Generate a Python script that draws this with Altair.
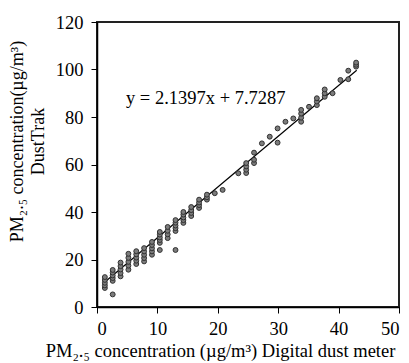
import altair as alt
import pandas as pd

# Scatter points (x = digital dust meter, y = DustTrak)
X_VALS = [
    1.3, 1.3, 1.3, 1.3, 1.3,
    2.6, 2.6, 2.6, 2.6, 2.6, 2.6,
    3.9, 3.9, 3.9, 3.9, 3.9,
    5.2, 5.2, 5.2, 5.2, 5.2,
    6.5, 6.5, 6.5, 6.5, 6.5,
    7.8, 7.8, 7.8, 7.8, 7.8,
    9.1, 9.1, 9.1, 9.1, 9.1,
    10.4, 10.4, 10.4, 10.4, 10.4, 10.4,
    11.7, 11.7, 11.7, 11.7,
    13.0, 13.0, 13.0, 13.0, 13.0, 13.0,
    14.3, 14.3, 14.3, 14.3, 14.3,
    15.6, 15.6, 15.6, 15.6,
    16.9, 16.9, 16.9, 16.9,
    18.2, 18.2, 18.2,
    19.5, 20.8, 23.4,
    24.7, 24.7, 24.7, 24.7,
    26.0, 26.0, 26.0,
    27.3, 28.6, 29.9, 29.9, 31.2, 32.5,
    33.8, 33.8, 33.8, 33.8,
    35.1, 36.4, 36.4, 36.4,
    37.7, 37.7, 37.7,
    39.0, 40.3, 41.6, 41.6,
    42.9, 42.9, 42.9,
]
Y_VALS = [
    8.0, 9.1, 10.2, 11.4, 12.6,
    5.3, 11.0, 12.2, 13.3, 14.5, 15.6,
    12.9, 14.3, 15.8, 17.2, 18.7,
    15.7, 17.4, 19.0, 20.7, 22.4,
    18.1, 19.5, 20.8, 22.2, 23.5,
    19.2, 20.6, 22.0, 23.4, 24.8,
    22.0, 23.4, 24.7, 26.1, 27.4,
    24.0, 27.0, 28.2, 29.3, 30.5, 31.6,
    29.0, 30.6, 32.1, 33.7,
    24.0, 32.0, 33.2, 34.3, 35.5, 36.6,
    35.4, 36.6, 37.7, 38.9, 40.0,
    38.3, 39.6, 40.8, 42.1,
    41.7, 42.9, 44.0, 45.2,
    45.2, 46.2, 47.3,
    47.9, 49.3, 56.3,
    56.4, 57.8, 59.2, 60.6,
    60.6, 62.0, 65.0,
    68.9, 71.7, 69.2, 75.2, 78.0, 79.4,
    78.0, 79.7, 81.4, 83.0,
    84.3, 85.0, 86.5, 87.9,
    88.5, 90.0, 91.6,
    90.0, 95.6, 95.9, 99.5,
    101.2, 102.0, 102.9,
]

# Trend line end points and its label
LINE_X = [1.3, 43.0]
LINE_Y = [10.5, 99.7]
EQUATION = "y = 2.1397x + 7.7287"
EQ_X = [4.8]
EQ_Y = [88.0]

X_TICKS = [0, 10, 20, 30, 40, 50]
Y_TICKS = [0, 20, 40, 60, 80, 100, 120]

FONT = "Liberation Serif"

pts = pd.DataFrame({"x": X_VALS, "y": Y_VALS})
line_df = pd.DataFrame({"x": LINE_X, "y": LINE_Y})
eq_df = pd.DataFrame({"x": EQ_X, "y": EQ_Y, "t": [EQUATION]})

xs = alt.Scale(domain=[0, 50], nice=False, zero=True)
ys = alt.Scale(domain=[0, 120], nice=False, zero=True)

x_axis = alt.Axis(
    values=X_TICKS,
    title="PM₂.₅ concentration (µg/m³) Digital dust meter",
    grid=False,
    titleFontSize=18.5,
    labelPadding=6,
    titlePadding=4,
    titleX=123,
    titleAlign="center",
)
y_axis = alt.Axis(
    values=Y_TICKS,
    title=["PM₂.₅ concentration(µg/m³)", "DustTrak"],
    grid=False,
    titleFontSize=18,
    labelPadding=8,
    titlePadding=8,
    titleLineHeight=21,
    titleY=119,
)

points = alt.Chart(pts).mark_point(
    filled=True, shape="circle", size=24, fill="#7c7c7c",
    stroke="#303030", strokeWidth=1, opacity=1,
).encode(
    x=alt.X("x:Q", scale=xs, axis=x_axis),
    y=alt.Y("y:Q", scale=ys, axis=y_axis),
)

trend = alt.Chart(line_df).mark_line(color="black", strokeWidth=1.2).encode(
    x=alt.X("x:Q", scale=xs),
    y=alt.Y("y:Q", scale=ys),
)

eq = alt.Chart(eq_df).mark_text(
    align="left", baseline="middle", font=FONT, fontSize=18.5, color="black",
).encode(
    x=alt.X("x:Q", scale=xs),
    y=alt.Y("y:Q", scale=ys),
    text="t:N",
)

chart = (
    alt.layer(trend, points, eq)
    .properties(
        width=302,
        height=285,
        autosize=alt.AutoSizeParams(type="none"),
        padding={"left": 97, "top": 22, "right": 10, "bottom": 56},
        background="white",
    )
    .configure_view(stroke="#222222", strokeWidth=2)
    .configure_axis(
        labelFont=FONT,
        labelFontSize=18.5,
        labelColor="black",
        titleFont=FONT,
        titleFontWeight="normal",
        titleColor="black",
        domainColor="black",
        domainWidth=1.5,
        tickColor="black",
        tickSize=6,
        tickWidth=1,
    )
)

chart.save("out.html", embed_options={"renderer": "svg", "actions": False})
